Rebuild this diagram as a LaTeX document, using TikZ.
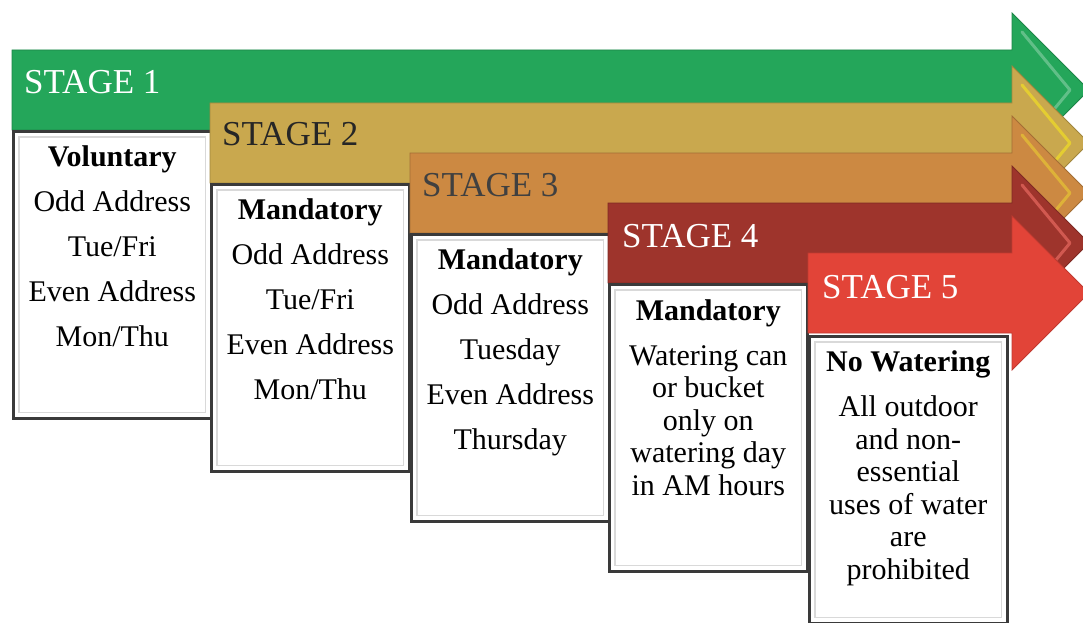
\documentclass[tikz,border=0pt]{standalone}
\usepackage{fontspec}
\setmainfont{Liberation Serif}
\usetikzlibrary{calc, positioning}
\definecolor{stgreen}{RGB}{36,166,90}
\definecolor{stgold}{RGB}{201,168,78}
\definecolor{storange}{RGB}{204,137,66}
\definecolor{stdark}{RGB}{158,52,44}
\definecolor{stred}{RGB}{226,68,56}
\definecolor{boxline}{RGB}{58,58,58}
\tikzset{%
    arr/.style={line width=0.8pt, line join=miter},
    bev/.style={line width=3pt, line join=round, line cap=round, opacity=0.7},
    stlab/.style={anchor=base west, inner sep=0pt, font=\fontsize{35}{40}\selectfont},
    stbox/.style={draw=boxline, line width=2.5pt, fill=white, minimum width=198pt,
        minimum height=287pt, anchor=north west, inner sep=0pt},
    inbox/.style={draw=gray!30, line width=1.5pt},
    txt/.style={align=center, inner sep=0pt, font=\fontsize{30}{45}\selectfont},
    txtd/.style={txt, font=\fontsize{30}{32.5}\selectfont},
}
\begin{document}
\begin{tikzpicture}[x=1pt, y=-1pt]
    \useasboundingbox (0,0) rectangle (1083,623);
    \clip (0,0) rectangle (1083,623);
    % stage 1
    \draw [arr, fill=stgreen, draw=stgreen!80!black] (12,50) -- (1012,50) -- (1012,13) -- (1089,90) -- (1012,167) -- (1012,130) -- (12,130) -- cycle;
    \draw [bev, stgreen!60!white] (1022,32) -- (1070,90) -- (1022,148);
    \node [stlab, text=white] (lab1) at (24,94) {STAGE 1};
    \node [stbox] (box1) at (12,130) {};
    \draw [inbox] ($(box1.north west)+(7,7)$) rectangle ($(box1.south east)+(-7,-7)$);
    \node [txt, below=15pt of box1.north] (txt1) {\textbf{Voluntary}\\Odd Address\\Tue/Fri\\Even Address\\Mon/Thu};
    % stage 2
    \draw [arr, fill=stgold, draw=stgold!80!black] (210,103) -- (1012,103) -- (1012,66) -- (1089,143) -- (1012,220) -- (1012,183) -- (210,183) -- cycle;
    \draw [bev, yellow!70!stgold] (1022,85) -- (1070,143) -- (1022,201);
    \node [stlab, text=black!85] (lab2) at (222,145) {STAGE 2};
    \node [stbox] (box2) at (210,183) {};
    \draw [inbox] ($(box2.north west)+(7,7)$) rectangle ($(box2.south east)+(-7,-7)$);
    \node [txt, below=15pt of box2.north] (txt2) {\textbf{Mandatory}\\Odd Address\\Tue/Fri\\Even Address\\Mon/Thu};
    % stage 3
    \draw [arr, fill=storange, draw=storange!80!black] (410,153) -- (1012,153) -- (1012,116) -- (1089,193) -- (1012,270) -- (1012,233) -- (410,233) -- cycle;
    \draw [bev, yellow!50!storange] (1022,135) -- (1070,193) -- (1022,251);
    \node [stlab, text=black!75] (lab3) at (422,196) {STAGE 3};
    \node [stbox] (box3) at (410,233) {};
    \draw [inbox] ($(box3.north west)+(7,7)$) rectangle ($(box3.south east)+(-7,-7)$);
    \node [txt, below=15pt of box3.north] (txt3) {\textbf{Mandatory}\\Odd Address\\Tuesday\\Even Address\\Thursday};
    % stage 4
    \draw [arr, fill=stdark, draw=stdark!80!black] (608,203) -- (1012,203) -- (1012,166) -- (1089,243) -- (1012,320) -- (1012,283) -- (608,283) -- cycle;
    \draw [bev, stred!80!white] (1022,185) -- (1070,243) -- (1022,301);
    \node [stlab, text=white] (lab4) at (622,247) {STAGE 4};
    \node [stbox] (box4) at (608,283) {};
    \draw [inbox] ($(box4.north west)+(7,7)$) rectangle ($(box4.south east)+(-7,-7)$);
    \node [txtd, below=16pt of box4.north] (txt4) {\textbf{Mandatory}\\[12.5pt]Watering can\\or bucket\\only on\\watering day\\in AM hours};
    % stage 5
    \draw [arr, fill=stred, draw=stred!85!black] (808,253) -- (1012,253) -- (1012,216) -- (1089,293) -- (1012,370) -- (1012,333) -- (808,333) -- cycle;
    \node [stlab, text=white] (lab5) at (822,298) {STAGE 5};
    \node [stbox] (box5) at (808,335) {};
    \draw [inbox] ($(box5.north west)+(7,7)$) rectangle ($(box5.south east)+(-7,-7)$);
    \node [txtd, below=15pt of box5.north] (txt5) {\textbf{No Watering}\\[13pt]All outdoor\\and non-\\essential\\uses of water\\are\\prohibited};
\end{tikzpicture}
\end{document}
